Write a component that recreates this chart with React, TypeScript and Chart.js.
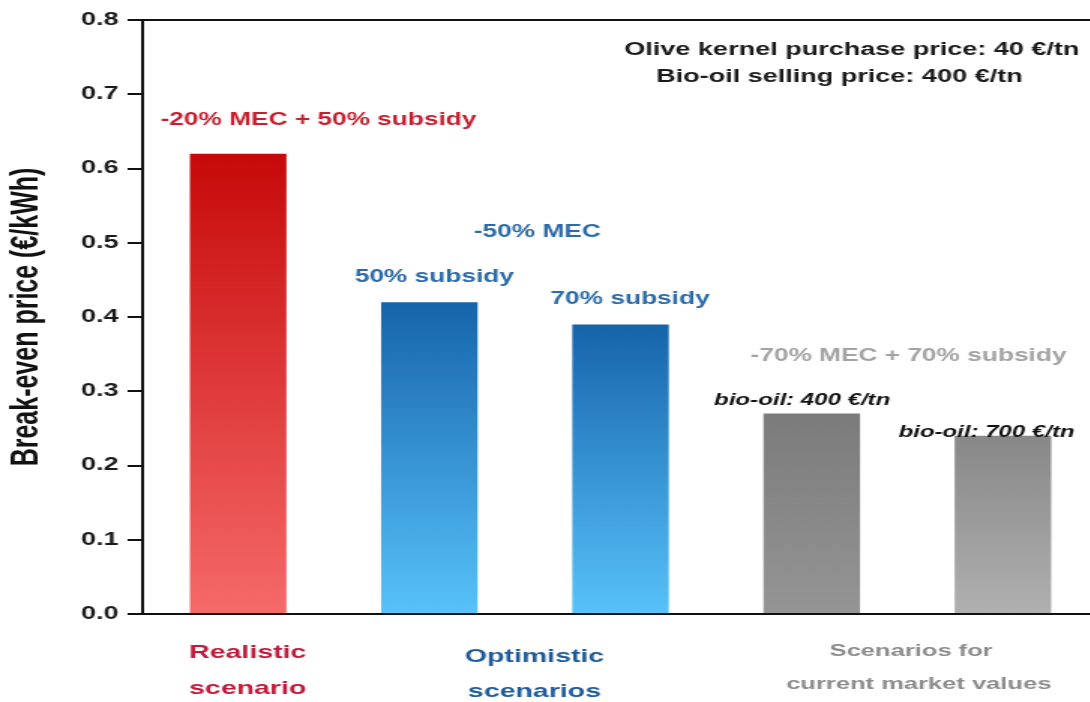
import React, { useEffect, useRef } from "react";
import { Chart, registerables } from "chart.js";

Chart.register(...registerables);

// ---- data ----
const categories = [
  "Realistic: -20% MEC + 50% subsidy",
  "Optimistic: -50% MEC, 50% subsidy",
  "Optimistic: -50% MEC, 70% subsidy",
  "Market: -70% MEC + 70% subsidy, bio-oil 400 €/tn",
  "Market: -70% MEC + 70% subsidy, bio-oil 700 €/tn",
];
const breakEvenPrices = [0.62, 0.42, 0.39, 0.27, 0.24];
const yMin = 0;
const yMax = 0.8;
const yStep = 0.1;

const axisTitle = "Break-even price (€/kWh)";
const noteLines = ["Olive kernel purchase price: 40 €/tn", "Bio-oil selling price: 400 €/tn"];
const groupNames = [["Realistic", "scenario"], ["Optimistic", "scenarios"], ["Scenarios for", "current market values"]];
const scenarioNotes = [
  "-20% MEC + 50% subsidy",
  "-50% MEC",
  "50% subsidy",
  "70% subsidy",
  "-70% MEC + 70% subsidy",
  "bio-oil: 400 €/tn",
  "bio-oil: 700 €/tn",
];

// ---- styles ----
const barTop = ["#c70909", "#1664aa", "#1664aa", "#7b7b7b", "#888888"];
const barBottom = ["#f66a6a", "#58c2fa", "#58c2fa", "#959595", "#b0b0b0"];
const RED = "#c61f2e";
const BLUE = "#2b6ba8";
const GRAY = "#a3a3a3";
const FONT = "'Liberation Sans', Arial, sans-serif";

// The canvas is drawn narrow and widened by CSS, giving the wide lettering.
const CANVAS_W = 735;
const CANVAS_H = 702;
const STRETCH = 1.5;

const textPlugin = {
  id: "chartTexts",
  afterDraw(chart: any) {
    const { ctx, chartArea, scales } = chart;
    const x = scales.x;
    const y = scales.y;

    // top frame line
    ctx.save();
    ctx.strokeStyle = "#111";
    ctx.lineWidth = 2;
    ctx.beginPath();
    ctx.moveTo(chartArea.left, chartArea.top);
    ctx.lineTo(chart.width, chartArea.top);
    ctx.stroke();
    ctx.restore();

    const put = (text: string, cx: number, cy: number, font: string, color: string) => {
      ctx.save();
      ctx.font = font;
      ctx.fillStyle = color;
      ctx.textAlign = "center";
      ctx.textBaseline = "middle";
      ctx.fillText(text, cx, cy);
      ctx.restore();
    };
    const at = (idx: number, val: number) => [x.getPixelForValue(idx), y.getPixelForValue(val)];

    const bold18 = `bold 18px ${FONT}`;
    const bold175 = `bold 17.5px ${FONT}`;
    const ital = `italic bold 16px ${FONT}`;

    let p = at(3.21, 0.76);
    put(noteLines[0], p[0], p[1], bold18, "#1a1a1a");
    p = at(3.145, 0.723);
    put(noteLines[1], p[0], p[1], bold18, "#1a1a1a");

    p = at(0.42, 0.665);
    put(scenarioNotes[0], p[0], p[1], bold175, RED);
    p = at(1.565, 0.514);
    put(scenarioNotes[1], p[0], p[1], bold175, BLUE);
    p = at(1.026, 0.454);
    put(scenarioNotes[2], p[0], p[1], bold175, BLUE);
    p = at(2.05, 0.424);
    put(scenarioNotes[3], p[0], p[1], bold175, BLUE);
    p = at(3.506, 0.347);
    put(scenarioNotes[4], p[0], p[1], bold175, GRAY);
    p = at(2.95, 0.288);
    put(scenarioNotes[5], p[0], p[1], ital, "#111");
    p = at(3.914, 0.244);
    put(scenarioNotes[6], p[0], p[1], ital, "#111");

    // group captions under the axis
    const base = chartArea.bottom;
    const g = `bold 19px ${FONT}`;
    put(groupNames[0][0], x.getPixelForValue(0.05), base + 39, g, "#c2193a");
    put(groupNames[0][1], x.getPixelForValue(0.05), base + 75, g, "#c2193a");
    put(groupNames[1][0], x.getPixelForValue(1.55), base + 43, g, "#1f5c98");
    put(groupNames[1][1], x.getPixelForValue(1.55), base + 78, g, "#1f5c98");
    const g2 = `bold 17px ${FONT}`;
    put(groupNames[2][0], x.getPixelForValue(3.52), base + 37, g2, "#8c8c8c");
    put(groupNames[2][1], x.getPixelForValue(3.56), base + 70, g2, "#8c8c8c");
  },
};

export default function App() {
  const ref = useRef<HTMLCanvasElement>(null);

  useEffect(() => {
    const canvas = ref.current!;
    const chart = new Chart(canvas, {
      type: "bar",
      data: {
        labels: categories,
        datasets: [
          {
            data: breakEvenPrices,
            barPercentage: 0.505,
            categoryPercentage: 1,
            borderWidth: 0,
            backgroundColor: (c: any) => {
              const ch = c.chart;
              const i = c.dataIndex;
              if (!ch.chartArea) return barTop[i];
              const ys = ch.scales.y;
              const grad = ch.ctx.createLinearGradient(0, ys.getPixelForValue(breakEvenPrices[i]), 0, ys.getPixelForValue(0));
              grad.addColorStop(0, barTop[i]);
              grad.addColorStop(1, barBottom[i]);
              return grad;
            },
          },
        ],
      },
      options: {
        responsive: false,
        animation: false,
        events: [],
        layout: { padding: { top: 20, right: 3, left: 0, bottom: 0 } },
        plugins: { legend: { display: false }, tooltip: { enabled: false } },
        scales: {
          x: {
            type: "category",
            offset: true,
            grid: { display: false },
            border: { display: true, color: "#111", width: 2 },
            ticks: { display: false },
            afterFit: (s: any) => {
              s.height = 88;
            },
          },
          y: {
            min: yMin,
            max: yMax,
            ticks: {
              stepSize: yStep,
              padding: 6,
              color: "#1a1a1a",
              font: { family: FONT, weight: "bold", size: 18 },
              callback: (v: any) => Number(v).toFixed(1),
            },
            grid: { drawOnChartArea: false, drawTicks: true, tickLength: 10, color: "#111", lineWidth: 2 },
            border: { color: "#111", width: 2 },
            title: {
              display: true,
              text: axisTitle,
              color: "#111",
              font: { family: FONT, weight: "bold", size: 25 },
              padding: { top: 3, bottom: 0 },
            },
            afterFit: (s: any) => {
              s.width = 95;
            },
          },
        },
      },
      plugins: [textPlugin],
    } as any);
    return () => chart.destroy();
  }, []);

  return (
    <div
      style={{
        position: "fixed",
        left: 0,
        top: 0,
        width: 1090,
        height: CANVAS_H,
        overflow: "hidden",
        background: "#fff",
      }}
    >
      <canvas
        ref={ref}
        width={CANVAS_W}
        height={CANVAS_H}
        style={{ display: "block", width: CANVAS_W * STRETCH, height: CANVAS_H }}
      />
    </div>
  );
}
